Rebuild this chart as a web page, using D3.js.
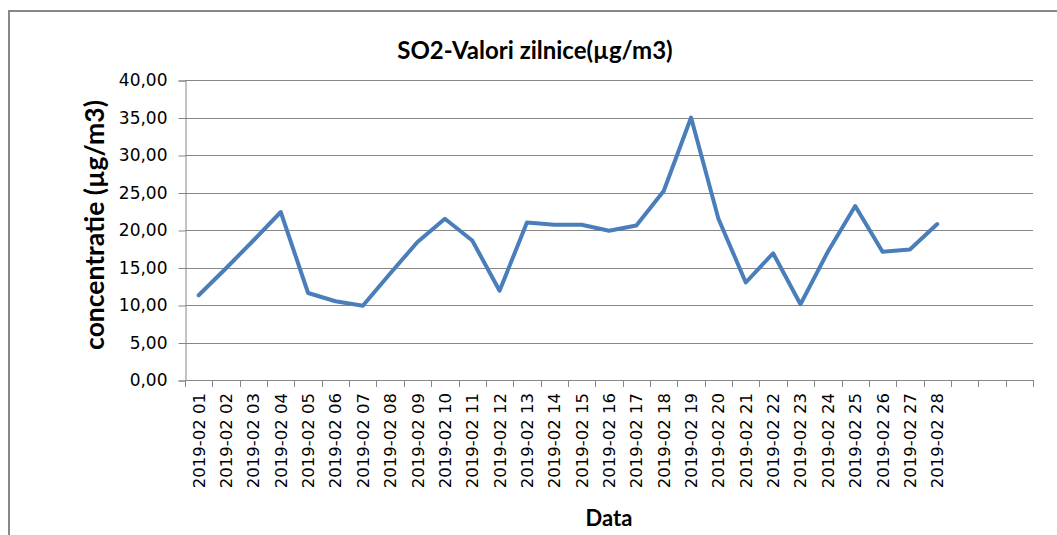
<!DOCTYPE html>
<html><head><meta charset="utf-8">
<script src="https://cdn.jsdelivr.net/npm/d3@7"></script>
<style>
html,body{margin:0;padding:0;background:#fff;}
svg{display:block;}
</style></head>
<body>
<svg id="chart" width="1057" height="535"></svg>
<script>
const categories = ["2019-02 01","2019-02 02","2019-02 03","2019-02 04","2019-02 05","2019-02 06","2019-02 07","2019-02 08","2019-02 09","2019-02 10","2019-02 11","2019-02 12","2019-02 13","2019-02 14","2019-02 15","2019-02 16","2019-02 17","2019-02 18","2019-02 19","2019-02 20","2019-02 21","2019-02 22","2019-02 23","2019-02 24","2019-02 25","2019-02 26","2019-02 27","2019-02 28","","",""];
const so2Values = [11.3,14.9,18.6,22.4,11.6,10.5,9.9,14.2,18.4,21.5,18.6,11.9,21.0,20.7,20.7,19.9,20.6,25.2,35.0,21.5,13.0,16.9,10.1,17.1,23.2,17.1,17.4,20.8];
const yTicks = [0,5,10,15,20,25,30,35,40];
const titleText = "SO2-Valori zilnice(µg/m3)";
const yTitle = "concentratie (µg/m3)";
const xTitle = "Data";

(function () {
const svg = d3.select("#chart");
const grey = "#878787";
const pLeft = 185, pRight = 1033, pTop = 80, pBottom = 380;

// outer chart border
svg.append("rect").attr("x", 9).attr("y", 11).attr("width", 1200).attr("height", 700)
  .attr("fill", "none").attr("stroke", grey).attr("stroke-width", 2);

const x = d3.scaleBand().domain(d3.range(categories.length)).range([pLeft, pRight]).paddingInner(0).paddingOuter(0);
const y = d3.scaleLinear().domain([0, 40]).range([pBottom, pTop]);

// gridlines
svg.append("g").selectAll("line").data(yTicks.filter(d => d > 0)).join("line")
  .attr("x1", pLeft).attr("x2", pRight)
  .attr("y1", d => Math.round(y(d)) + 0.5).attr("y2", d => Math.round(y(d)) + 0.5)
  .attr("stroke", grey).attr("stroke-width", 1);

// y axis
const yAxis = svg.append("g").attr("transform", `translate(${pLeft + 0.5},0.5)`)
  .call(d3.axisLeft(y).tickValues(yTicks).tickSize(7).tickPadding(11)
    .tickFormat(d => d3.format(".2f")(d).replace(".", ",")));
yAxis.select(".domain").attr("stroke", grey);
yAxis.selectAll(".tick line").attr("stroke", grey);
yAxis.selectAll(".tick text").attr("font-family", "'DejaVu Sans', sans-serif").attr("font-size", 17).attr("fill", "#000");

// x axis: ticks at category boundaries
const bounds = d3.range(categories.length + 1).map(i => pLeft + i * x.bandwidth());
const xg = svg.append("g");
xg.append("line").attr("x1", pLeft).attr("x2", pRight).attr("y1", pBottom + 0.5).attr("y2", pBottom + 0.5).attr("stroke", grey);
xg.selectAll("line.tk").data(bounds).join("line").attr("class", "tk")
  .attr("x1", d => Math.round(d) + 0.5).attr("x2", d => Math.round(d) + 0.5)
  .attr("y1", pBottom).attr("y2", pBottom + 7).attr("stroke", grey);
xg.selectAll("text").data(categories).join("text")
  .attr("transform", (d, i) => `translate(${x(i) + x.bandwidth() / 2 + 6},${pBottom + 13}) rotate(-90)`)
  .attr("text-anchor", "end")
  .attr("font-family", "'DejaVu Sans', sans-serif").attr("font-size", 16.5).attr("fill", "#000")
  .text(d => d);

// line
const line = d3.line().x((d, i) => x(i) + x.bandwidth() / 2).y(d => y(d));
svg.append("path").datum(so2Values).attr("d", line)
  .attr("fill", "none").attr("stroke", "#4a7ebb").attr("stroke-width", 4)
  .attr("stroke-linejoin", "round").attr("stroke-linecap", "round");

// titles
svg.append("text").attr("x", 535).attr("y", 59).attr("text-anchor", "middle")
  .attr("font-family", "Lato, sans-serif").attr("font-weight", "bold").attr("font-size", 24)
  .text(titleText);
svg.append("text").attr("transform", `translate(104,${(pTop + pBottom) / 2 - 5}) rotate(-90)`)
  .attr("text-anchor", "middle")
  .attr("font-family", "Lato, sans-serif").attr("font-weight", "bold").attr("font-size", 26.5)
  .text(yTitle);
svg.append("text").attr("x", 609).attr("y", 526).attr("text-anchor", "middle")
  .attr("font-family", "Lato, sans-serif").attr("font-weight", "bold").attr("font-size", 22)
  .text(xTitle);
})();
</script>
</body></html>
